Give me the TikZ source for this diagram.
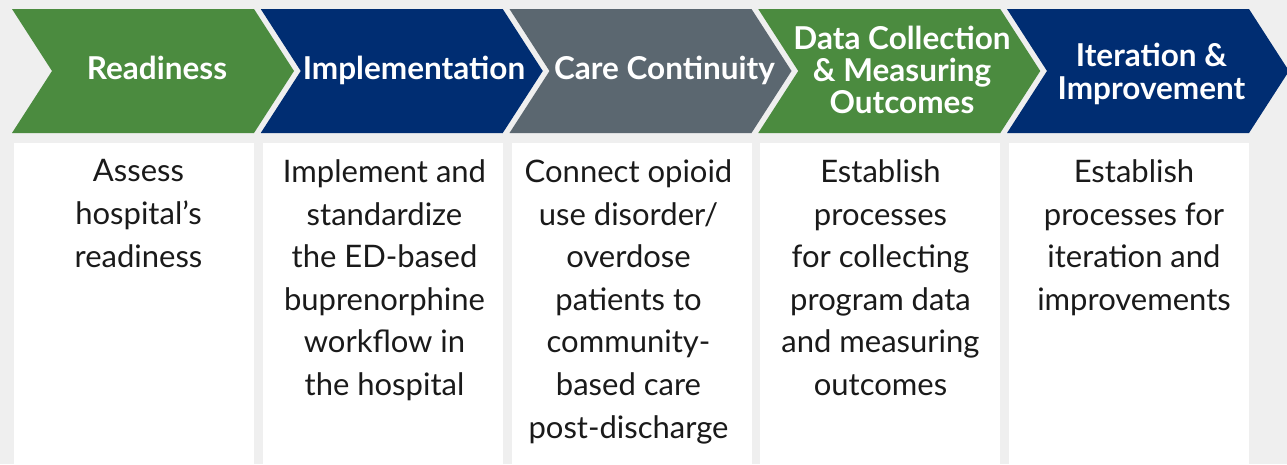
\documentclass[tikz,border=0pt]{standalone}
\usepackage{fontspec}
\setmainfont{Lato}
\definecolor{bggrey}{HTML}{EFEFEF}
\definecolor{pgreen}{HTML}{4B8B3F}
\definecolor{pnavy}{HTML}{002D72}
\definecolor{pslate}{HTML}{5B6770}
\definecolor{bodytext}{HTML}{1A1A1A}
\begin{document}
\begin{tikzpicture}[x=1pt,y=-1pt,
  head/.style={text=white, inner sep=0pt, anchor=north, align=center,
    font=\fontsize{31.5}{32}\selectfont\bfseries},
  body/.style={text=bodytext, inner sep=0pt, anchor=north, align=center,
    font=\fontsize{31}{42.6}\selectfont}]
\fill[bggrey] (0,0) rectangle (1287,464);
\useasboundingbox (0,0) rectangle (1287,464);
\foreach \i/\c in {0/pgreen,1/pnavy,2/pslate,3/pgreen,4/pnavy}{
  \pgfmathsetmacro\xa{12+248.75*\i}
  \fill[\c] (\xa,9) -- ++(242,0) -- ++(40,62) -- ++(-40,62) -- ++(-242,0) -- ++(40,-62) -- cycle;
  \fill[white] (\xa+2,143) rectangle (\xa+242,464);
}
\node[head] (h1) at (157,55.5) {Readiness};
\node[head] (h2) at (414,55.5) {Implementation};
\node[head] (h3) at (664.5,55.5) {Care Continuity};
\node[head] (h4) at (902,26) {Data Collection\\\& Measuring\\Outcomes};
\node[head] (h5) at (1151.5,43.3) {Iteration \&\\[1pt]Improvement};
\node[body] (b1) at (138.5,159.5) {Assess\\hospital’s\\readiness};
\node[body] (b2) at (384.5,159.5) {Implement and\\standardize\\the ED-based\\buprenorphine\\workflow in\\the hospital};
\node[body] (b3) at (628.5,159.5) {Connect opioid\\use disorder/\\overdose\\patients to\\community-\\based care\\post-discharge};
\node[body] (b4) at (880.5,159.5) {Establish\\processes\\for collecting\\program data\\and measuring\\outcomes};
\node[body] (b5) at (1134,159.5) {Establish\\processes for\\iteration and\\improvements};
\end{tikzpicture}
\end{document}
